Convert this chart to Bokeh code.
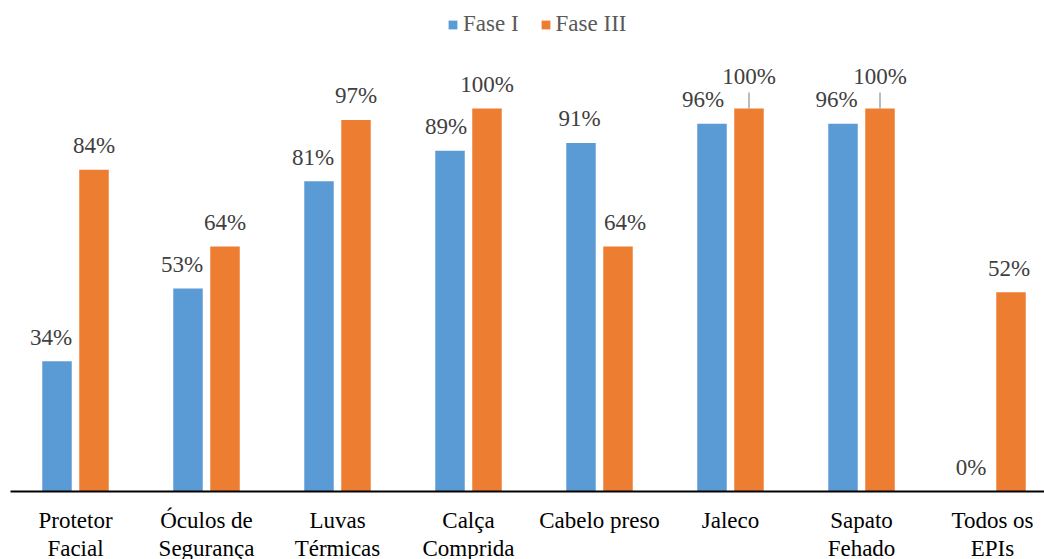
from bokeh.plotting import figure
from bokeh.models import ColumnDataSource, Range1d, FixedTicker, Legend, LegendItem
from bokeh.core.properties import value
from bokeh.embed import file_html
from bokeh.resources import INLINE

# ---- data ----
categories = ["Protetor\nFacial", "Óculos de\nSegurança", "Luvas\nTérmicas", "Calça\nComprida",
              "Cabelo preso", "Jaleco", "Sapato\nFehado", "Todos os\nEPIs"]
fase1 = [34, 53, 81, 89, 91, 96, 96, 0]
fase3 = [84, 64, 97, 100, 64, 100, 100, 52]
series_names = ["Fase I", "Fase III"]

# ---- styling / layout ----
BLUE = "#5B9BD5"
ORANGE = "#ED7D31"
FONT = "Liberation Serif"
W, H = 1044, 559
LEFT = 10
FRAME_H = 491                     # frame top at y=0, axis at y=491
PX_PER_UNIT = 383 / 100.0         # pixels per percent
GROUP_PX = 131.0
FIRST_CENTER_PX = 65.0
frame_w = W - LEFT
x0 = -FIRST_CENTER_PX / GROUP_PX
x_range = Range1d(x0, x0 + frame_w / GROUP_PX)
y_range = Range1d(0, FRAME_H / PX_PER_UNIT)

bar_w = 29.5 / GROUP_PX
off = 18.5 / GROUP_PX

# label horizontal nudges (px) and raised labels with leader lines
lab1_dx = [-6, -6, -6, -4, -1.5, -9, -6.5, -3]
lab3_dx = [0, 0, 0, 0, 7, 0, 0, -2]
raised3 = [False, False, False, False, False, True, True, False]

xs = list(range(len(categories)))
src1 = ColumnDataSource(dict(
    x=[i - off for i in xs], top=fase1,
    lab=[f"{v}%" for v in fase1], dx=lab1_dx, dy=[-24] * len(xs)))
src3 = ColumnDataSource(dict(
    x=[i + off for i in xs], top=fase3,
    lab=[f"{v}%" for v in fase3], dx=lab3_dx,
    dy=[-32.5 if r else -24 for r in raised3]))

p = figure(frame_width=frame_w, frame_height=FRAME_H, x_range=x_range, y_range=y_range,
           output_backend="svg", toolbar_location=None,
           min_border_left=LEFT, min_border_right=0, min_border_top=0,
           min_border_bottom=0)
p.outline_line_color = None
p.xgrid.visible = False
p.ygrid.visible = False
p.yaxis.visible = False

r1 = p.vbar(x="x", top="top", width=bar_w, source=src1, fill_color=BLUE, line_color=None)
r3 = p.vbar(x="x", top="top", width=bar_w, source=src3, fill_color=ORANGE, line_color=None)

for s in (src1, src3):
    p.text(x="x", y="top", text="lab", source=s, x_offset="dx", y_offset="dy",
           text_align="center", text_baseline="middle",
           text_font=value(FONT), text_font_size="23px", text_color="#404040")

# leader lines for raised labels
lx = [src3.data["x"][i] for i in xs if raised3[i]]
ly0 = [fase3[i] for i in xs if raised3[i]]
ly1 = [fase3[i] + 16 / PX_PER_UNIT for i in xs if raised3[i]]
p.segment(x0=lx, y0=ly0, x1=lx, y1=ly1, line_color="#A6A6A6", line_width=1.5)

ax = p.xaxis[0]
ax.ticker = FixedTicker(ticks=xs)
ax.major_label_overrides = {i: c for i, c in zip(xs, categories)}
ax.axis_line_color = "black"
ax.axis_line_width = 2
ax.major_tick_line_color = None
ax.minor_tick_line_color = None
ax.major_label_text_font = FONT
ax.major_label_text_font_size = "23px"
ax.major_label_text_color = "black"
ax.major_label_text_line_height = 1.13
ax.major_label_standoff = 10

legend = Legend(items=[LegendItem(label=series_names[0], renderers=[r1]),
                       LegendItem(label=series_names[1], renderers=[r3])],
                orientation="horizontal", location=(437, FRAME_H - 37),
                border_line_color=None, background_fill_alpha=0,
                padding=0, margin=0, spacing=21,
                glyph_width=11, glyph_height=11, label_standoff=5,
                label_text_font=FONT, label_text_font_size="23px",
                label_text_color="#595959", label_height=25)
p.add_layout(legend)

open("out.html", "w").write(file_html(p, INLINE))
